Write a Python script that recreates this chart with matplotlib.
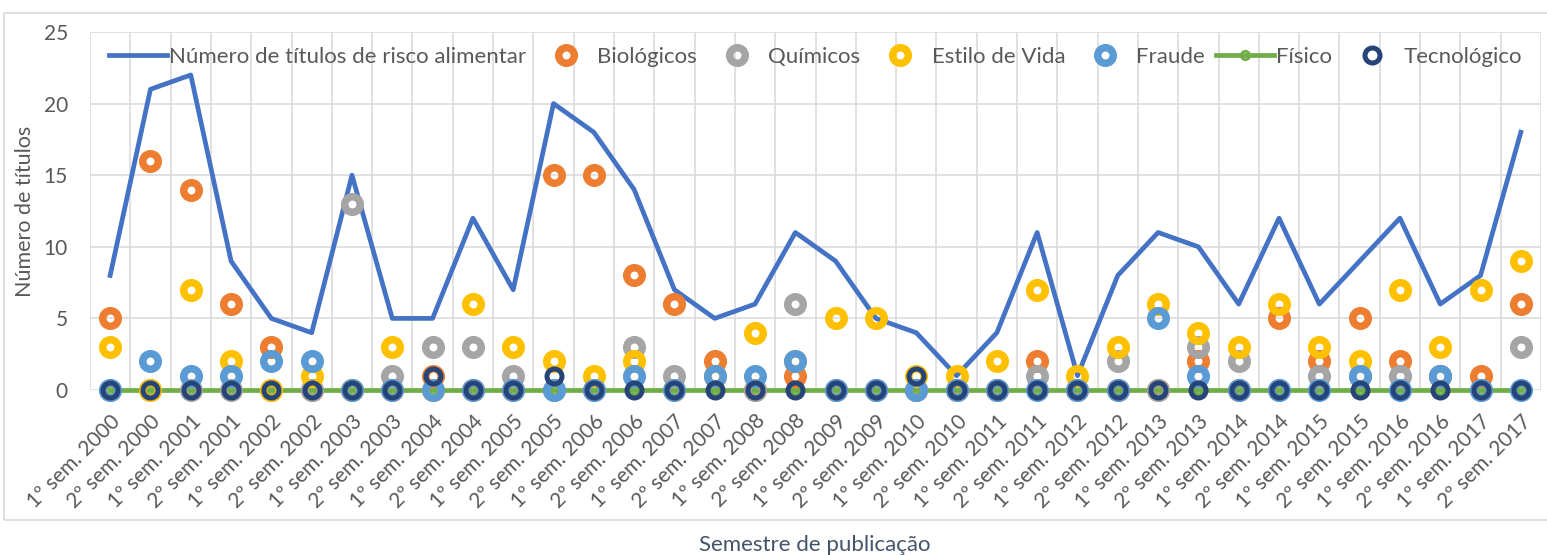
import numpy as np
import matplotlib.pyplot as plt
from matplotlib.patches import Rectangle

# data
semestres = [f"{s}º sem. {ano}" for ano in range(2000, 2018) for s in (1, 2)]
total = [8, 21, 22, 9, 5, 4, 15, 5, 5, 12, 7, 20, 18, 14, 7, 5, 6, 11,
         9, 5, 4, 1, 4, 11, 1, 8, 11, 10, 6, 12, 6, 9, 12, 6, 8, 18]
biologicos = [5, 16, 14, 6, 3, 0, 0, 0, 1, 0, 0, 15, 15, 8, 6, 2, 0, 1,
              0, 0, 0, 0, 0, 2, 0, 0, 0, 2, 0, 5, 2, 5, 2, 1, 1, 6]
quimicos = [0, 0, 0, 0, 0, 0, 13, 1, 3, 3, 1, 0, 0, 3, 1, 1, 0, 6,
            0, 0, 0, 0, 0, 1, 0, 2, 0, 3, 2, 0, 1, 1, 1, 1, 0, 3]
estilo_vida = [3, 0, 7, 2, 0, 1, 0, 3, 0, 6, 3, 2, 1, 2, 0, 1, 4, 2,
               5, 5, 1, 1, 2, 7, 1, 3, 6, 4, 3, 6, 3, 2, 7, 3, 7, 9]
fraude = [0, 2, 1, 1, 2, 2, 0, 0, 0, 0, 0, 0, 0, 1, 0, 1, 1, 2,
          0, 0, 0, 0, 0, 0, 0, 0, 5, 1, 0, 0, 0, 1, 0, 1, 0, 0]
fisico = [0, 0, 0, 0, 0, 0, 0, 0, 0, 0, 0, 0, 0, 0, 0, 0, 0, 0,
          0, 0, 0, 0, 0, 0, 0, 0, 0, 0, 0, 0, 0, 0, 0, 0, 0, 0]
tecnologico = [0, 0, 0, 0, 0, 0, 0, 0, 1, 0, 0, 1, 0, 0, 0, 0, 0, 0,
               0, 0, 1, 0, 0, 0, 0, 0, 0, 0, 0, 0, 0, 0, 0, 0, 0, 0]

plt.rcParams['font.family'] = ['Lato', 'DejaVu Sans']
txt = '#595959'
fs = 15

W, H = 1547, 555
fig = plt.figure(figsize=(W / 100, H / 100), dpi=100)
ax = fig.add_axes([90 / W, 165 / H, 1451 / W, 358 / H])

x = np.arange(len(semestres))
ring = dict(ls='none', marker='o', ms=11.2, mew=5.4, mfc='none', clip_on=False)

h_total, = ax.plot(x, total, color='#4472C4', lw=3.4, zorder=2,
                   label='Número de títulos de risco alimentar')
h_fis, = ax.plot(x, fisico, color='#70AD47', lw=3.4, marker='o', ms=6, mew=2,
                 mfc='none', zorder=2.5, clip_on=False, label='Físico')
h_bio, = ax.plot(x, biologicos, color='#ED7D31', zorder=3, label='Biológicos', **ring)
h_qui, = ax.plot(x, quimicos, color='#A5A5A5', zorder=4, label='Químicos', **ring)
h_est, = ax.plot(x, estilo_vida, color='#FFC000', zorder=5, label='Estilo de Vida', **ring)
h_fra, = ax.plot(x, fraude, color='#5B9BD5', zorder=6, label='Fraude', **ring)
h_tec, = ax.plot(x, tecnologico, color='#264478', ls='none', marker='o', ms=10.8,
                 mew=3.6, mfc='none', zorder=8, clip_on=False, label='Tecnológico')

ax.set_xlim(-0.5, 35.5)
ax.set_ylim(0, 25)
ax.set_yticks(range(0, 26, 5))
ax.set_xticks(x)
ax.set_xticks(np.arange(-0.5, 36, 1), minor=True)
ax.set_xticklabels(semestres, rotation=45, ha='right', va='top',
                   rotation_mode='anchor', fontsize=fs, color=txt)
ax.tick_params(which='both', length=0)
ax.tick_params(axis='x', pad=15)
ax.tick_params(axis='y', pad=16, labelsize=fs, labelcolor=txt)
ax.grid(which='minor', axis='x', color='#D9D9D9', lw=1.1)
ax.grid(which='major', axis='y', color='#D9D9D9', lw=1.1)
ax.set_axisbelow(True)
for s in ax.spines.values():
    s.set_visible(False)

fig.text(25 / W, 1 - 211 / H, 'Número de títulos', rotation=90, ha='center',
         va='center', color=txt, fontsize=15.5)
fig.text(815 / W, 1 - 545 / H, 'Semestre de publicação', ha='center',
         va='center', color='#44546A', fontsize=16)

handles = [h_total, h_bio, h_qui, h_est, h_fra, h_fis, h_tec]
ax.legend(handles, [h.get_label() for h in handles], ncol=7, loc='center',
          bbox_to_anchor=(0.5, 1 - 25 / 358), frameon=False, fontsize=16,
          labelcolor=txt, handlelength=2.6, handletextpad=0.1,
          columnspacing=0.5, borderaxespad=0)

# chart area border (right side falls outside the image)
fig.patches.append(Rectangle((4 / W, 35 / H), 1.1, 507 / H, transform=fig.transFigure,
                             fill=False, ec='#D9D9D9', lw=1.2))

fig.savefig('out.png', dpi=100)
